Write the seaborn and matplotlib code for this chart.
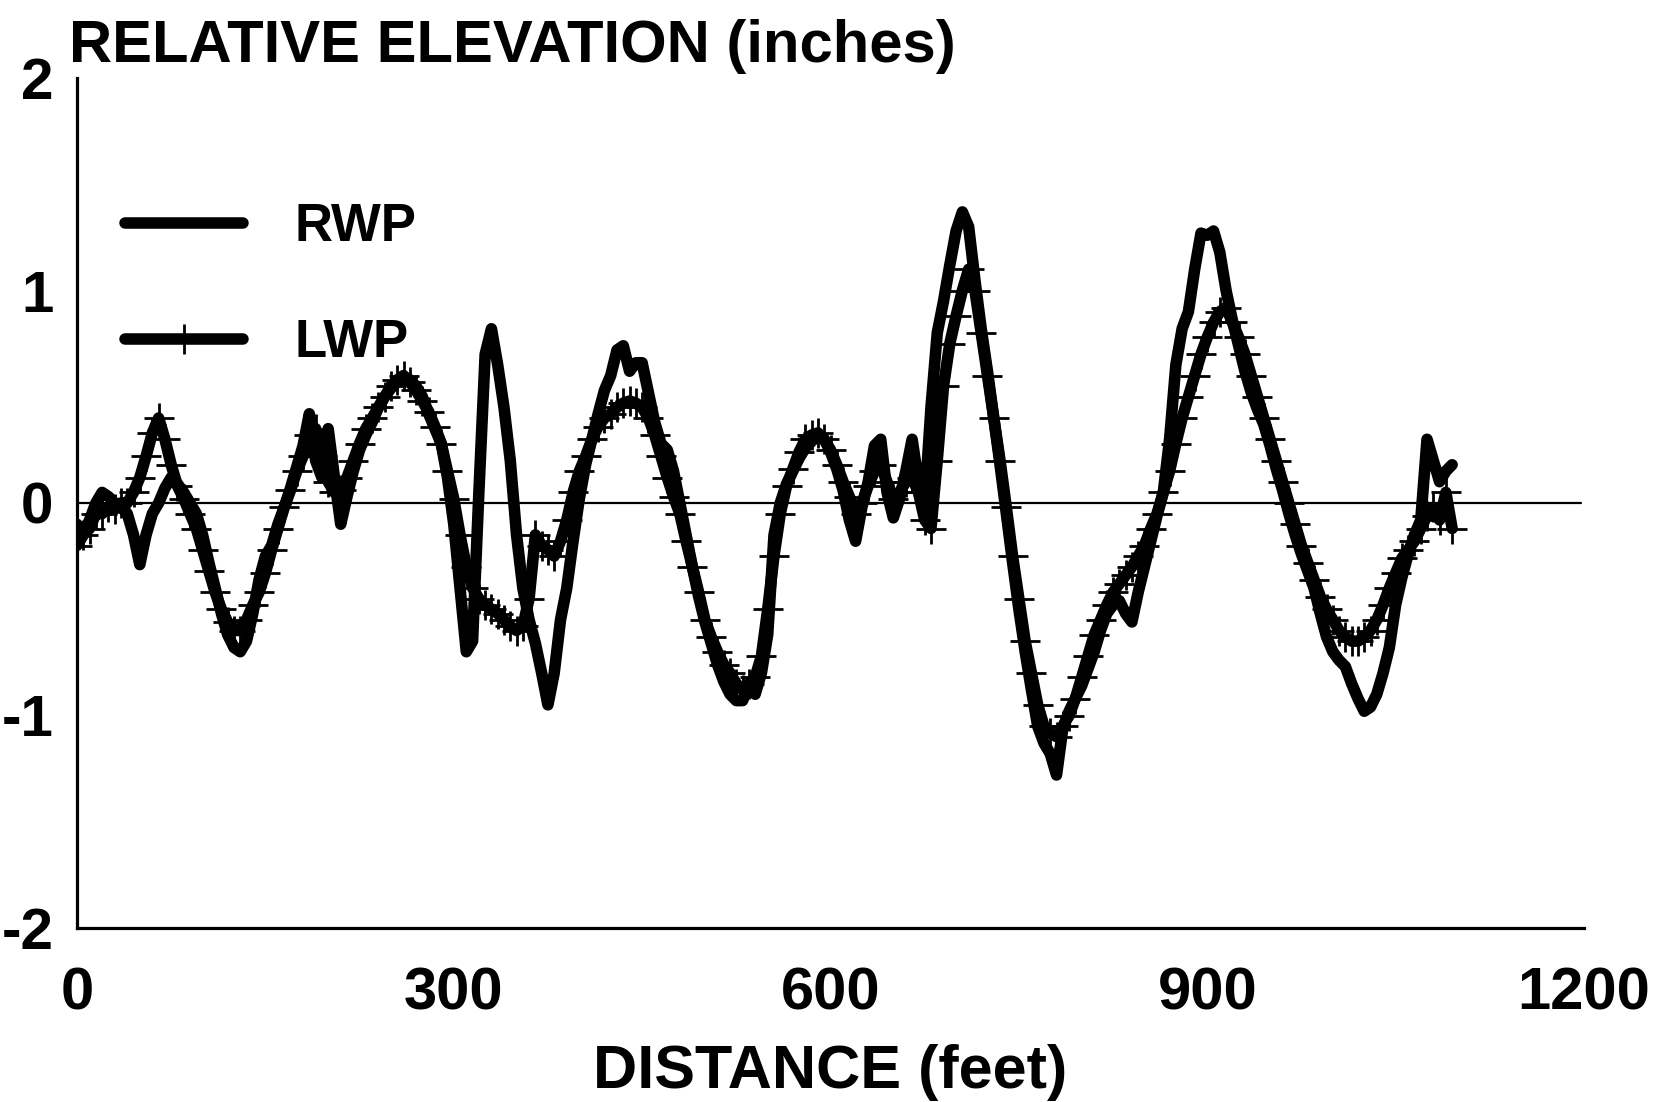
import numpy as np
import pandas as pd
import matplotlib
matplotlib.use("Agg")
import matplotlib.pyplot as plt
from matplotlib.lines import Line2D
import seaborn as sns

# ---- data ----
distance_ft = list(range(0, 1100, 5))

rwp = [
    -0.10, -0.15, -0.08, 0.00, 0.05, 0.03, 0.00, -0.02, -0.05, -0.15,
    -0.29, -0.15, -0.05, 0.00, 0.07, 0.12, 0.09, 0.05, 0.00, -0.05,
    -0.15, -0.28, -0.40, -0.52, -0.62, -0.68, -0.70, -0.65, -0.52, -0.36,
    -0.25, -0.20, -0.10, -0.02, 0.07, 0.17, 0.27, 0.42, 0.20, 0.12,
    0.35, 0.12, -0.10, 0.03, 0.15, 0.25, 0.32, 0.38, 0.45, 0.50,
    0.54, 0.57, 0.59, 0.58, 0.55, 0.50, 0.42, 0.35, 0.28, 0.12,
    -0.10, -0.40, -0.70, -0.65, 0.05, 0.70, 0.82, 0.65, 0.45, 0.20,
    -0.15, -0.40, -0.55, -0.66, -0.80, -0.95, -0.80, -0.55, -0.40, -0.18,
    0.02, 0.18, 0.30, 0.42, 0.53, 0.60, 0.72, 0.74, 0.62, 0.66,
    0.66, 0.52, 0.38, 0.28, 0.25, 0.15, 0.00, -0.15, -0.30, -0.44,
    -0.56, -0.66, -0.76, -0.84, -0.90, -0.93, -0.93, -0.86, -0.90, -0.80,
    -0.62, -0.15, 0.00, 0.09, 0.15, 0.21, 0.26, 0.29, 0.32, 0.30,
    0.24, 0.16, 0.06, -0.08, -0.18, -0.02, 0.10, 0.27, 0.30, 0.05,
    -0.07, 0.02, 0.15, 0.30, 0.10, 0.00, 0.45, 0.80, 0.95, 1.12,
    1.28, 1.37, 1.30, 1.05, 0.82, 0.62, 0.40, 0.18, -0.05, -0.28,
    -0.50, -0.70, -0.88, -1.05, -1.13, -1.18, -1.28, -1.06, -0.98, -0.92,
    -0.86, -0.78, -0.70, -0.60, -0.52, -0.48, -0.46, -0.52, -0.56, -0.42,
    -0.30, -0.18, -0.06, 0.05, 0.30, 0.65, 0.82, 0.90, 1.10, 1.27,
    1.26, 1.28, 1.18, 1.00, 0.86, 0.74, 0.62, 0.52, 0.44, 0.37,
    0.27, 0.16, 0.06, -0.05, -0.15, -0.24, -0.32, -0.40, -0.52, -0.63,
    -0.70, -0.74, -0.77, -0.85, -0.92, -0.98, -0.96, -0.90, -0.80, -0.68,
    -0.48, -0.35, -0.24, -0.15, -0.08, 0.30, 0.20, 0.10, 0.15, 0.18,
]

lwp = [
    -0.20, -0.15, -0.12, -0.05, -0.05, -0.02, -0.03, 0.00, 0.00, 0.05,
    0.12, 0.22, 0.33, 0.40, 0.30, 0.18, 0.08, 0.02, -0.05, -0.12,
    -0.22, -0.32, -0.42, -0.50, -0.56, -0.60, -0.60, -0.55, -0.48, -0.42,
    -0.33, -0.22, -0.12, -0.02, 0.06, 0.15, 0.22, 0.32, 0.35, 0.22,
    0.10, 0.05, 0.06, 0.12, 0.20, 0.28, 0.35, 0.40, 0.45, 0.50,
    0.55, 0.58, 0.60, 0.57, 0.53, 0.48, 0.43, 0.36, 0.28, 0.15,
    0.02, -0.15, -0.30, -0.40, -0.45, -0.48, -0.50, -0.52, -0.55, -0.58,
    -0.60, -0.58, -0.45, -0.15, -0.20, -0.22, -0.25, -0.18, -0.08, 0.05,
    0.15, 0.22, 0.30, 0.36, 0.40, 0.42, 0.45, 0.47, 0.48, 0.47,
    0.45, 0.40, 0.32, 0.22, 0.12, 0.03, -0.05, -0.18, -0.30, -0.42,
    -0.55, -0.63, -0.70, -0.76, -0.80, -0.85, -0.88, -0.85, -0.82, -0.72,
    -0.50, -0.25, -0.05, 0.08, 0.16, 0.24, 0.30, 0.32, 0.33, 0.30,
    0.25, 0.18, 0.10, 0.03, -0.05, 0.00, 0.08, 0.15, 0.18, 0.10,
    0.02, 0.05, 0.10, 0.12, 0.05, -0.08, -0.12, 0.20, 0.55, 0.75,
    0.88, 1.00, 1.10, 1.00, 0.80, 0.60, 0.40, 0.20, -0.02, -0.25,
    -0.45, -0.65, -0.80, -0.95, -1.05, -1.08, -1.10, -1.05, -1.00, -0.92,
    -0.82, -0.72, -0.62, -0.55, -0.48, -0.42, -0.38, -0.34, -0.30, -0.25,
    -0.20, -0.12, -0.05, 0.05, 0.15, 0.28, 0.40, 0.50, 0.60, 0.70,
    0.78, 0.85, 0.90, 0.92, 0.85, 0.78, 0.70, 0.60, 0.50, 0.40,
    0.30, 0.20, 0.10, 0.00, -0.10, -0.20, -0.28, -0.36, -0.44, -0.50,
    -0.55, -0.60, -0.63, -0.65, -0.65, -0.63, -0.60, -0.55, -0.48, -0.40,
    -0.33, -0.26, -0.22, -0.18, -0.12, -0.06, -0.02, -0.08, 0.05, -0.12,
]

series_names = ["RWP", "LWP"]
x_ticks = [0, 300, 600, 900, 1200]
y_ticks = [-2, -1, 0, 1, 2]
x_label = "DISTANCE (feet)"
y_label = "RELATIVE ELEVATION (inches)"

df = pd.DataFrame({"distance": distance_ft, "RWP": rwp, "LWP": lwp})

# ---- style ----
sns.set_style("white")
plt.rcParams["font.family"] = ["Liberation Sans", "DejaVu Sans"]
plt.rcParams["font.weight"] = "bold"
plt.rcParams["axes.unicode_minus"] = False
plt.rcParams["text.color"] = "black"
plt.rcParams["axes.labelcolor"] = "black"
plt.rcParams["xtick.color"] = "black"
plt.rcParams["ytick.color"] = "black"

fig = plt.figure(figsize=(16.8, 11.02), dpi=100)
ax = fig.add_axes([77 / 1680, 1 - 928 / 1102, 1507 / 1680, 850 / 1102])

LW = 8.3
MS = 21
MEW = 2.0
sns.lineplot(data=df, x="distance", y="RWP", ax=ax, color="black", lw=LW,
             legend=False)
sns.lineplot(data=df, x="distance", y="LWP", ax=ax, color="black", lw=LW,
             marker="+", markersize=MS, markeredgewidth=MEW,
             markeredgecolor="black", markerfacecolor="black", legend=False)

ax.axhline(0, xmin=0, xmax=0.998, color="black", lw=1.6, zorder=1)

ax.set_xlim(0, 1200)
ax.set_ylim(-2, 2)
ax.set_xticks(x_ticks)
ax.set_yticks(y_ticks)
ax.set_xticklabels([str(t) for t in x_ticks])
ax.set_yticklabels([str(t) for t in y_ticks])

for s in ["top", "right"]:
    ax.spines[s].set_visible(False)
for s in ["left", "bottom"]:
    ax.spines[s].set_linewidth(2.3)
    ax.spines[s].set_color("black")

ax.tick_params(axis="x", direction="in", length=14, width=1.8, pad=28,
               labelsize=43, colors="black")
ax.tick_params(axis="y", direction="in", length=14, width=1.8, pad=17,
               labelsize=42, colors="black")
for lab in ax.get_xticklabels() + ax.get_yticklabels():
    lab.set_fontweight("bold")

ax.set_xlabel(x_label, fontsize=44, fontweight="bold", va="baseline",
              color="black")
ax.xaxis.set_label_coords(0.5, -0.188)
ax.set_ylabel(y_label, fontsize=43, fontweight="bold", rotation=0,
              ha="left", va="baseline", color="black")
ax.yaxis.set_label_coords(-0.005, 1.019)

handles = [
    Line2D([], [], color="black", lw=LW),
    Line2D([], [], color="black", lw=LW, marker="+", markersize=MS,
           markeredgewidth=MEW, markeredgecolor="black"),
]
leg = ax.legend(handles, series_names, loc="upper left",
                bbox_to_anchor=(0.032, 0.854), frameon=False,
                prop={"size": 38, "weight": "bold"}, handlelength=2.24,
                handletextpad=0.97, labelspacing=1.25, borderpad=0,
                borderaxespad=0, numpoints=1)
for t in leg.get_texts():
    t.set_color("black")

fig.savefig("out.png", dpi=100)
